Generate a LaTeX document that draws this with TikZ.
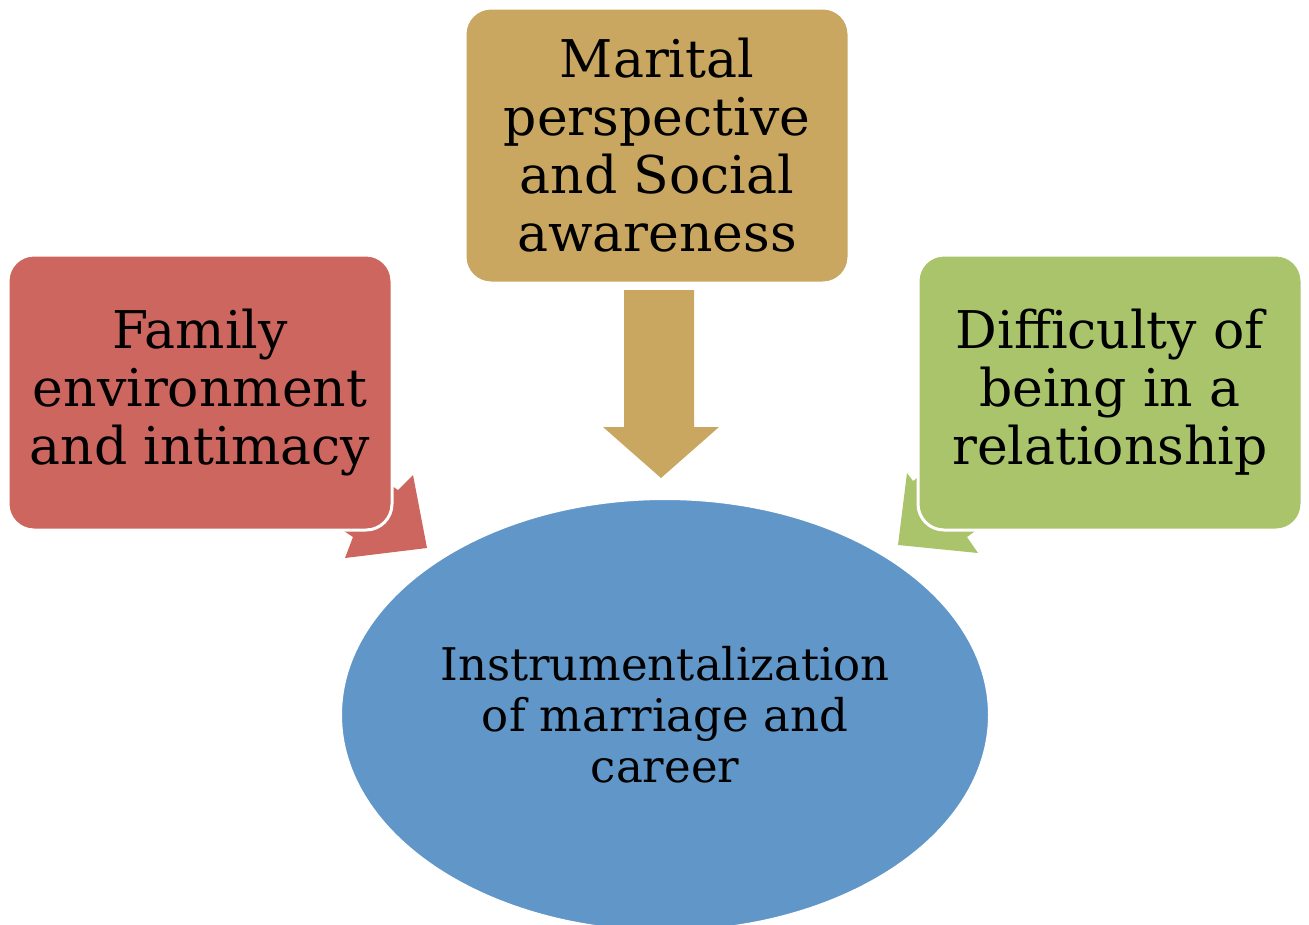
\documentclass[tikz,border=0pt]{standalone}
\usepackage{fontspec}
\setmainfont{DejaVu Serif}
\usetikzlibrary{shapes.geometric}
\definecolor{cred}{RGB}{205,102,94}
\definecolor{ctan}{RGB}{201,167,96}
\definecolor{cgreen}{RGB}{170,196,108}
\definecolor{cblue}{RGB}{96,150,200}
\begin{document}
\begin{tikzpicture}[x=1pt,y=-1pt,
  box/.style={draw=white,line width=3pt,rounded corners=26pt,minimum width=384pt,minimum height=275pt,align=center,inner sep=0pt,font=\fontsize{52}{58}\selectfont},
  oval/.style={ellipse,draw=white,line width=2pt,fill=cblue,minimum width=648pt,minimum height=432pt,align=center,inner sep=0pt,font=\fontsize{45}{51}\selectfont}]
\useasboundingbox (0,0) rectangle (1309,924);
% block arrows (behind boxes)
\fill[cred] (331,446) -- (398,490) -- (413,475) -- (427,548) -- (345,558) -- (353,537) -- (286,493) -- cycle;
\fill[cgreen] (978,434) -- (913,481) -- (907,473) -- (898,545) -- (978,553) -- (967,537) -- (1032,490) -- cycle;
\fill[ctan] (624,290) -- (694,290) -- (694,427) -- (719,427) -- (661,478) -- (603,427) -- (624,427) -- cycle;
% nodes
\node[box,fill=cred] (fam) at (200,392.5) {Family\\environment\\and intimacy};
\node[box,fill=ctan] (mar) at (657,145.5) {Marital\\perspective\\and Social\\awareness};
\node[box,fill=cgreen] (dif) at (1110,392.5) {Difficulty of\\being in a\\relationship};
\node[oval] (ins) at (665,715) {Instrumentalization\\of marriage and\\career};
\end{tikzpicture}
\end{document}
